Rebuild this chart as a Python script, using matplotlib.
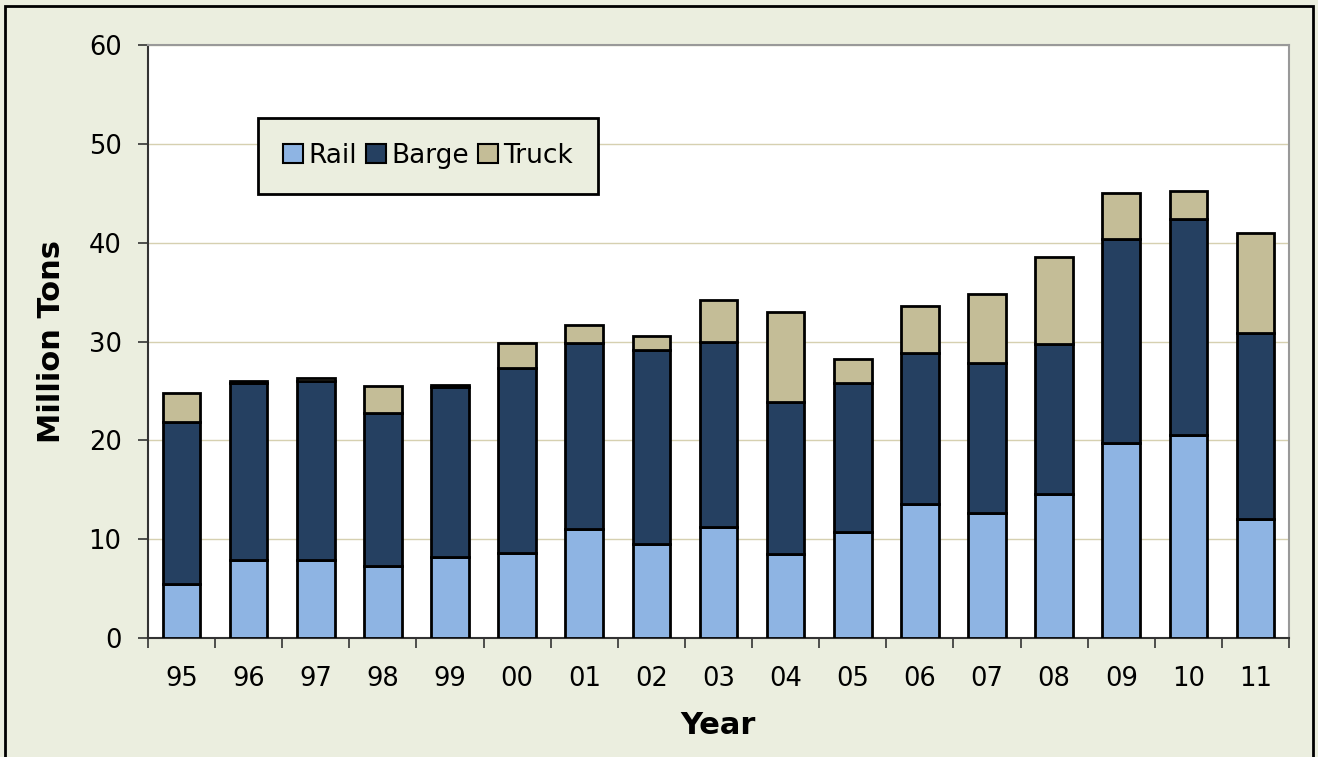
import numpy as np
import matplotlib.pyplot as plt
from matplotlib.patches import Rectangle

years = ["95", "96", "97", "98", "99", "00", "01", "02", "03", "04",
         "05", "06", "07", "08", "09", "10", "11"]
rail = [5.5, 7.9, 7.9, 7.3, 8.2, 8.6, 11.0, 9.5, 11.2, 8.5,
        10.7, 13.6, 12.6, 14.6, 19.7, 20.5, 12.0]
barge = [16.4, 17.9, 18.1, 15.5, 17.2, 18.7, 18.8, 19.6, 18.8, 15.4,
         15.1, 15.2, 15.2, 15.1, 20.7, 21.9, 18.9]
truck = [2.9, 0.2, 0.3, 2.7, 0.2, 2.5, 1.9, 1.5, 4.2, 9.1,
         2.4, 4.8, 7.0, 8.8, 4.6, 2.8, 10.1]

bg = "#EBEEDF"
fig = plt.figure(figsize=(13.18, 7.57), dpi=100, facecolor=bg)
fig.patches.append(Rectangle((0.004, -0.01), 0.992, 1.002, transform=fig.transFigure,
                             fill=False, edgecolor="black", linewidth=2))
ax = fig.add_axes([148 / 1318, 1 - 638 / 757, (1289 - 148) / 1318, (638 - 45) / 757])
ax.set_facecolor("white")

x = np.arange(len(years))
rail = np.array(rail)
barge = np.array(barge)
truck = np.array(truck)
kw = dict(width=0.56, edgecolor="black", linewidth=2, zorder=3)
ax.bar(x, rail, color="#8EB4E3", label="Rail", **kw)
ax.bar(x, barge, bottom=rail, color="#254061", label="Barge", **kw)
ax.bar(x, truck, bottom=rail + barge, color="#C4BD97", label="Truck", **kw)

ax.set_xlim(-0.5, len(years) - 0.5)
ax.set_ylim(0, 60)
ax.set_yticks(range(0, 61, 10))
ax.yaxis.grid(True, color="#D6D0B0", linewidth=1, zorder=0)
ax.set_xticks(x)
ax.set_xticklabels(years)
ax.set_xticks(np.arange(-0.5, len(years)), minor=True)
ax.tick_params(axis="x", which="major", length=0, pad=20, labelsize=18.5)
ax.tick_params(axis="x", which="minor", length=7, width=1.2, color="#333333")
ax.tick_params(axis="y", length=7, width=1.2, color="#333333", labelsize=18.5, pad=12)

for s in ["top", "right"]:
    ax.spines[s].set_color("#999999")
    ax.spines[s].set_linewidth(1.5)
for s in ["left", "bottom"]:
    ax.spines[s].set_color("#333333")
    ax.spines[s].set_linewidth(1.5)

ax.set_xlabel("Year", fontsize=22, fontweight="bold", labelpad=14)
ax.set_ylabel("Million Tons", fontsize=22, fontweight="bold", labelpad=16)

leg = ax.legend(loc="upper left", bbox_to_anchor=(0.0964, 0.877), ncol=3, fontsize=19,
                frameon=True, fancybox=False, handlelength=0.75, handleheight=0.75,
                handletextpad=0.2, columnspacing=0.35, borderpad=0.95, borderaxespad=0)
leg.get_frame().set_facecolor(bg)
leg.get_frame().set_edgecolor("black")
leg.get_frame().set_linewidth(2)
leg.get_frame().set_alpha(1)
for h in leg.legend_handles:
    h.set_linewidth(1.5)

fig.savefig("out.png", dpi=100, facecolor=bg)
